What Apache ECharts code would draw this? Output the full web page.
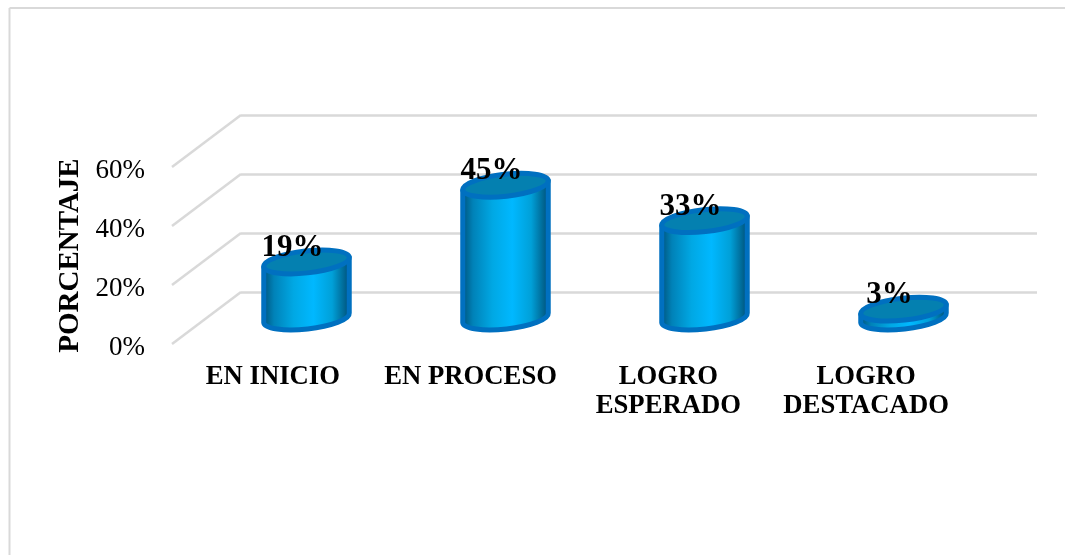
<!DOCTYPE html>
<html>
<head>
<meta charset="utf-8">
<style>html,body{margin:0;padding:0;background:#fff}#c{width:1065px;height:555px}</style>
<script src="https://cdn.jsdelivr.net/npm/echarts@6/dist/echarts.min.js"></script>
</head>
<body>
<div id="c"></div>
<script>
const categories = ['EN INICIO', 'EN PROCESO', 'LOGRO\nESPERADO', 'LOGRO\nDESTACADO'];
const percentages = [19, 45, 33, 3];
const yTicks = [0, 20, 40, 60];
const axisTitle = 'PORCENTAJE';

const FONT = '"Liberation Serif","Times New Roman",serif';
const DEPTH_X = 69, DEPTH_Y = -52;
const TILT = 6.3 * Math.PI / 180;
const RX = 43, RY = 11;
const GRID_GREY = '#d9d9d9';

const chart = echarts.init(document.getElementById('c'), null, {renderer: 'canvas'});

function renderFloorEdge(params, api) {
  const p = api.coord([0, api.value(0)]);
  const x0 = params.coordSys.x;
  return {
    type: 'line',
    shape: {x1: x0, y1: p[1], x2: x0 + DEPTH_X, y2: p[1] + DEPTH_Y},
    style: {stroke: GRID_GREY, lineWidth: 2.5}
  };
}

function renderCylinder(params, api) {
  const v = api.value(1);
  const base = api.coord([api.value(0), 0]);
  const top = api.coord([api.value(0), v]);
  const cx = base[0] + DEPTH_X / 2 + 0.5;
  const by = base[1] + DEPTH_Y / 2;
  const ty = top[1] + DEPTH_Y / 2;
  const dx = RX * Math.cos(TILT), dy = RX * Math.sin(TILT);
  const d = 'M' + (cx - dx) + ' ' + (ty + dy) +
    ' L' + (cx - dx) + ' ' + (by + dy) +
    ' A' + RX + ' ' + RY + ' -6.3 0 0 ' + (cx + dx) + ' ' + (by - dy) +
    ' L' + (cx + dx) + ' ' + (ty - dy) + ' Z';
  const stroke = '#0070c0';
  return {
    type: 'group',
    children: [
      {
        type: 'path',
        shape: {pathData: d},
        style: {
          stroke: stroke, lineWidth: 5, lineJoin: 'round',
          fill: new echarts.graphic.LinearGradient(cx - dx, 0, cx + dx, 0, [
            {offset: 0, color: '#00567f'},
            {offset: 0.12, color: '#0082b8'},
            {offset: 0.35, color: '#00a8e4'},
            {offset: 0.58, color: '#00b8ff'},
            {offset: 0.8, color: '#00a0d8'},
            {offset: 1, color: '#005078'}
          ], true)
        }
      },
      {
        type: 'ellipse',
        shape: {cx: cx, cy: ty, rx: RX, ry: RY},
        originX: cx, originY: ty, rotation: TILT,
        style: {fill: '#0480b0', stroke: stroke, lineWidth: 5}
      },
      {
        type: 'text',
        x: cx - 14, y: ty - 14,
        style: {
          text: v + '%', fill: '#000', align: 'center', verticalAlign: 'middle',
          font: 'bold 31px ' + FONT
        }
      }
    ]
  };
}

chart.setOption({
  animation: false,
  backgroundColor: '#fff',
  graphic: [
    {type: 'line', silent: true, shape: {x1: 9.5, y1: 8, x2: 1065, y2: 8}, style: {stroke: GRID_GREY, lineWidth: 2}},
    {type: 'line', silent: true, shape: {x1: 9.5, y1: 8, x2: 9.5, y2: 555}, style: {stroke: GRID_GREY, lineWidth: 2}}
  ],
  grid: [
    {left: 172, right: 97, top: 167, bottom: 211},
    {left: 241, right: 28, top: 115, bottom: 263},
    {left: 174, width: 791, top: 171, bottom: 207}
  ],
  xAxis: [
    {
      type: 'category', gridIndex: 0, data: categories,
      axisLine: {show: false}, axisTick: {show: false}, axisLabel: {show: false}
    },
    {
      type: 'category', gridIndex: 1, data: categories,
      axisLine: {show: false}, axisTick: {show: false}, axisLabel: {show: false}
    },
    {
      type: 'category', gridIndex: 2, data: categories,
      axisLine: {show: false}, axisTick: {show: false},
      axisLabel: {
        interval: 0, margin: 15, color: '#000', fontFamily: FONT,
        fontWeight: 'bold', fontSize: 26.7, lineHeight: 29, align: 'center'
      }
    }
  ],
  yAxis: [
    {
      type: 'value', gridIndex: 0, min: yTicks[0], max: yTicks[yTicks.length - 1], interval: yTicks[1],
      name: axisTitle, nameLocation: 'middle', nameGap: 87,
      nameTextStyle: {color: '#000', fontFamily: FONT, fontWeight: 'bold', fontSize: 29},
      axisLine: {show: false}, axisTick: {show: false}, splitLine: {show: false}, axisLabel: {show: false}
    },
    {
      type: 'value', gridIndex: 1, min: yTicks[0], max: yTicks[yTicks.length - 1], interval: yTicks[1],
      axisLine: {show: false}, axisTick: {show: false}, axisLabel: {show: false},
      splitLine: {show: true, lineStyle: {color: GRID_GREY, width: 2.5}}
    },
    {
      type: 'value', gridIndex: 2, min: yTicks[0], max: yTicks[yTicks.length - 1], interval: yTicks[1],
      axisLine: {show: false}, axisTick: {show: false}, splitLine: {show: false},
      axisLabel: {color: '#000', fontFamily: FONT, fontSize: 27, margin: 29, formatter: '{value}%'}
    }
  ],
  series: [
    {
      type: 'custom', xAxisIndex: 0, yAxisIndex: 0, silent: true, z: 1,
      coordinateSystem: 'cartesian2d', renderItem: renderFloorEdge,
      encode: {y: 0}, data: yTicks.map(t => [t])
    },
    {
      type: 'custom', xAxisIndex: 0, yAxisIndex: 0, z: 3,
      coordinateSystem: 'cartesian2d', renderItem: renderCylinder,
      encode: {x: 0, y: 1}, data: percentages.map((v, i) => [i, v])
    }
  ]
});
</script>
</body>
</html>
